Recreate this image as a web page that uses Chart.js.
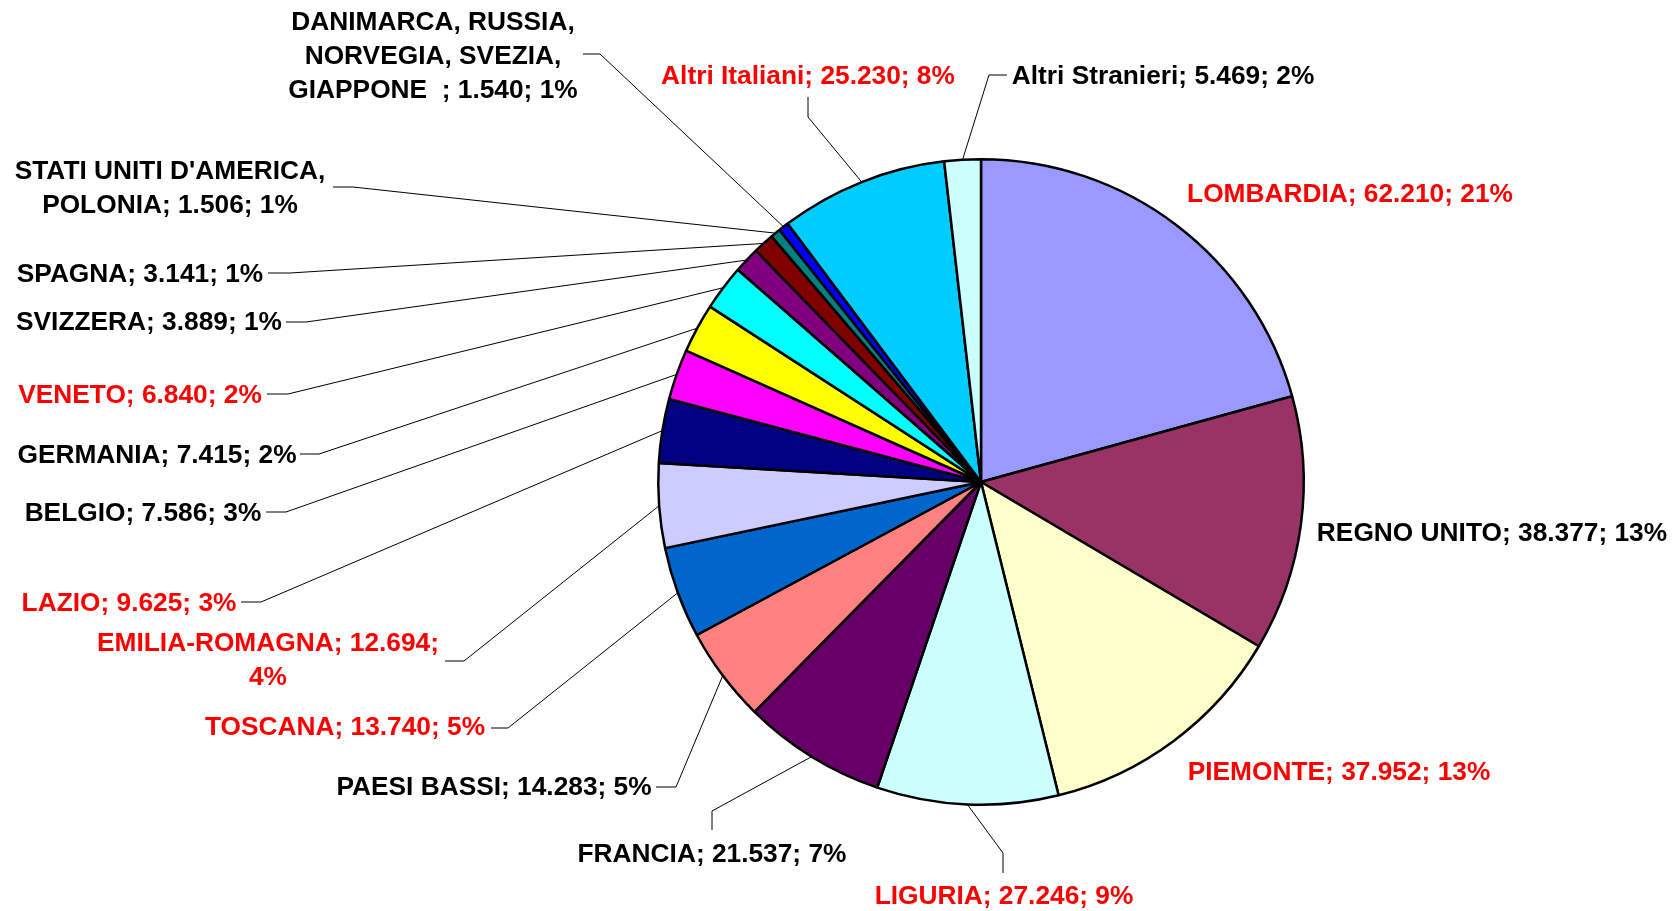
<!DOCTYPE html>
<html>
<head>
<meta charset="utf-8">
<script src="https://cdn.jsdelivr.net/npm/chart.js@4.4.0/dist/chart.umd.min.js"></script>
<style>
  html, body { margin: 0; padding: 0; background: #fff; }
</style>
</head>
<body>
<canvas id="chart" width="1679" height="911"></canvas>
<script>
const categories = [
  'LOMBARDIA', 'REGNO UNITO', 'PIEMONTE', 'LIGURIA', 'FRANCIA', 'PAESI BASSI',
  'TOSCANA', 'EMILIA-ROMAGNA', 'LAZIO', 'BELGIO', 'GERMANIA', 'VENETO',
  'SVIZZERA', 'SPAGNA', "STATI UNITI D'AMERICA, POLONIA",
  'DANIMARCA, RUSSIA, NORVEGIA, SVEZIA, GIAPPONE  ', 'Altri Italiani', 'Altri Stranieri'
];
const values = [
  62210, 38377, 37952, 27246, 21537, 14283,
  13740, 12694, 9625, 7586, 7415, 6840,
  3889, 3141, 1506, 1540, 25230, 5469
];
// italian regions get red labels
const italian = [
  true, false, true, true, false, false,
  true, true, true, false, false, true,
  false, false, false, false, true, false
];
const sliceColors = [
  '#9999FF', '#993366', '#FFFFCC', '#CCFFFF', '#660066', '#FF8080',
  '#0066CC', '#CCCCFF', '#000080', '#FF00FF', '#FFFF00', '#00FFFF',
  '#800080', '#800000', '#008080', '#0000FF', '#00CCFF', '#CCFFFF'
];

// where each label sits: text centre x, first line centre y, wrap width, leader elbow
const labelLayout = [
  { x: 1350, y: 193 },
  { x: 1492, y: 532 },
  { x: 1339, y: 771 },
  { x: 1004, y: 895, leader: [[1003, 873], [1003, 853]] },
  { x: 712, y: 853, leader: [[712, 830], [712, 811]] },
  { x: 494, y: 786, leader: [[656, 787], [676, 787]] },
  { x: 345, y: 726, leader: [[491, 728], [508, 728]] },
  { x: 268, y: 642, maxW: 360, leader: [[445, 661], [464, 661]] },
  { x: 129, y: 602, leader: [[241, 602], [261, 602]] },
  { x: 143, y: 512, leader: [[266, 512], [286, 512]] },
  { x: 157, y: 454, leader: [[300, 454], [319, 454]] },
  { x: 140, y: 394, leader: [[267, 394], [288, 394]] },
  { x: 149, y: 321, leader: [[286, 322], [306, 322]] },
  { x: 140, y: 273, leader: [[268, 273], [290, 273]] },
  { x: 170, y: 170, maxW: 340, leader: [[333, 187], [353, 187]] },
  { x: 433, y: 21, maxW: 310, leader: [[583, 54], [600, 54]] },
  { x: 808, y: 75, leader: [[808, 97], [808, 117]] },
  { x: 1163, y: 75, leader: [[1007, 75], [989, 75]] }
];

const FONT_SIZE = 26.3;
const LINE_H = 34;
const total = values.reduce((a, b) => a + b, 0);

function fmt(n) {
  return String(n).replace(/\B(?=(\d{3})+(?!\d))/g, '.');
}

function wrap(ctx, text, maxW) {
  if (!maxW) return [text];
  const words = text.split(' ');
  const lines = [];
  let cur = '';
  words.forEach(w => {
    const test = cur === '' ? w : cur + ' ' + w;
    if (cur !== '' && ctx.measureText(test).width > maxW) {
      lines.push(cur);
      cur = w;
    } else {
      cur = test;
    }
  });
  lines.push(cur);
  return lines;
}

const outsideLabels = {
  id: 'outsideLabels',
  afterDraw(chart) {
    const ctx = chart.ctx;
    const meta = chart.getDatasetMeta(0);
    ctx.save();
    ctx.font = 'bold ' + FONT_SIZE + 'px "Liberation Sans", Arial, sans-serif';
    ctx.textAlign = 'center';
    ctx.textBaseline = 'alphabetic';

    meta.data.forEach((arc, i) => {
      const lay = labelLayout[i];
      const p = arc.getProps(['x', 'y', 'startAngle', 'endAngle', 'outerRadius'], true);
      const mid = (p.startAngle + p.endAngle) / 2;
      const ex = p.x + Math.cos(mid) * p.outerRadius;
      const ey = p.y + Math.sin(mid) * p.outerRadius;

      if (lay.leader) {
        ctx.beginPath();
        ctx.strokeStyle = '#000';
        ctx.lineWidth = 1;
        ctx.moveTo(lay.leader[0][0], lay.leader[0][1]);
        ctx.lineTo(lay.leader[1][0], lay.leader[1][1]);
        ctx.lineTo(ex, ey);
        ctx.stroke();
      }

      const pct = Math.round(values[i] / total * 100);
      const text = categories[i] + '; ' + fmt(values[i]) + '; ' + pct + '%';
      const lines = wrap(ctx, text, lay.maxW);
      ctx.fillStyle = italian[i] ? '#FF0000' : '#000000';
      lines.forEach((ln, k) => {
        ctx.fillText(ln, lay.x, lay.y + k * LINE_H + FONT_SIZE * 0.358);
      });
    });
    ctx.restore();
  }
};

new Chart(document.getElementById('chart').getContext('2d'), {
  type: 'pie',
  data: {
    labels: categories,
    datasets: [{
      data: values,
      backgroundColor: sliceColors,
      borderColor: '#000000',
      borderWidth: 2.5
    }]
  },
  options: {
    responsive: false,
    animation: false,
    layout: {
      padding: { left: 657, right: 374, top: 158, bottom: 105 }
    },
    plugins: {
      legend: { display: false },
      tooltip: { enabled: false }
    }
  },
  plugins: [outsideLabels]
});
</script>
</body>
</html>
